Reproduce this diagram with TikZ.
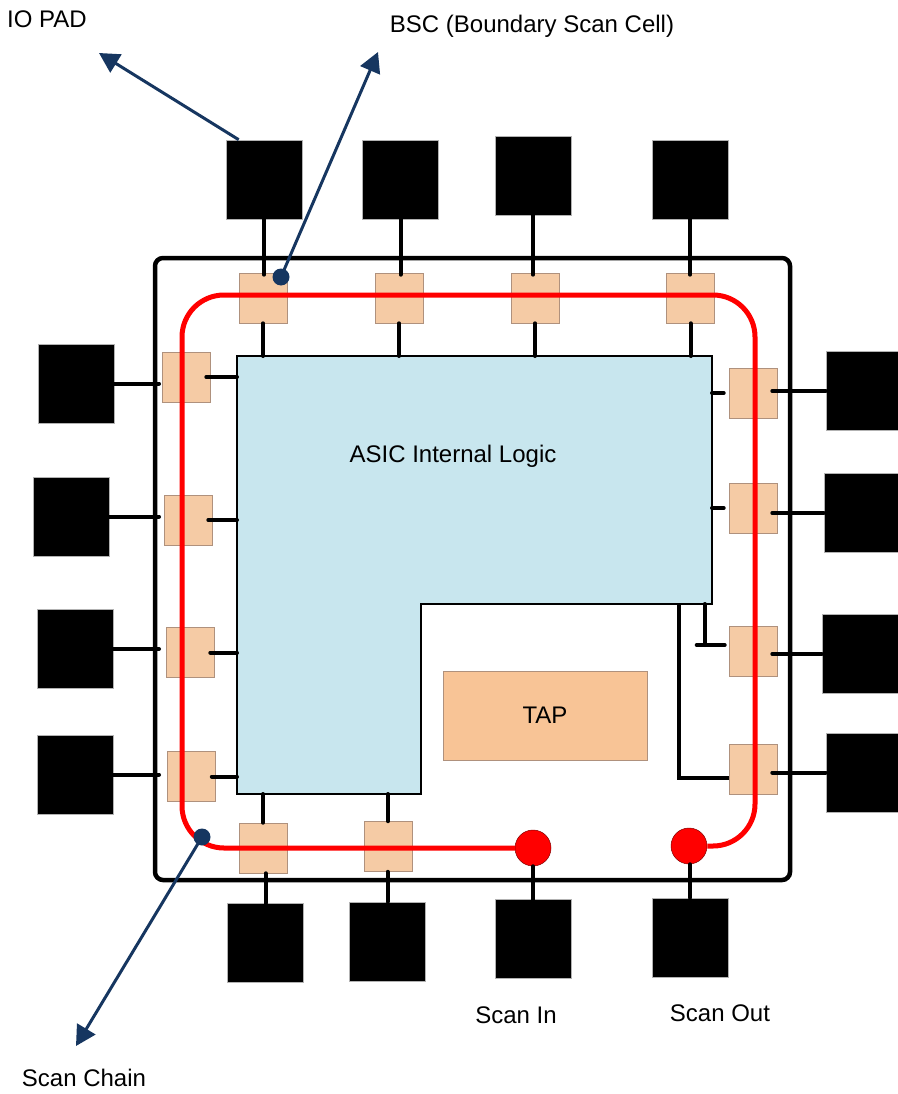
\documentclass[tikz,border=0pt]{standalone}
\usepackage{fontspec}
\setmainfont{Liberation Sans}
\usetikzlibrary{arrows.meta,calc}
\definecolor{cellfill}{RGB}{245,203,165}
\definecolor{cellline}{RGB}{175,145,125}
\definecolor{tapfill}{RGB}{248,196,150}
\definecolor{logicfill}{RGB}{200,230,238}
\definecolor{navy}{RGB}{22,54,96}
\begin{document}
\begin{tikzpicture}[x=1pt,y=-1pt,font=\fontsize{24}{28}\selectfont]
\tikzstyle{iopad}=[fill=black,draw=gray!60,line width=0.6pt,minimum width=76pt,minimum height=79pt,inner sep=0pt]
\tikzstyle{bsc}=[fill=cellfill,draw=cellline,line width=0.6pt,minimum width=48pt,minimum height=50pt,inner sep=0pt]
\tikzstyle{wire}=[line width=4pt,line cap=round]
\tikzstyle{scanpath}=[draw=red,line width=5pt,rounded corners=42pt]
\tikzstyle{sdot}=[circle,fill=red,draw=red!50!black,line width=0.5pt,minimum size=36pt,inner sep=0pt]
\tikzstyle{ndot}=[circle,fill=navy,minimum size=17pt,inner sep=0pt]
\tikzstyle{pointer}=[draw=navy,line width=3pt,-{Triangle[length=20pt,width=21pt]}]
\useasboundingbox (0,0) rectangle (897,1094);
\node[draw,line width=4.5pt,rounded corners=8pt,minimum width=635pt,minimum height=622pt,outer sep=0pt] (chip) at (472.5,569) {};
\coordinate (lgnw) at (237,356); \coordinate (lgne) at (712,356); \coordinate (lgse) at (712,604);
\coordinate (lgm) at (421,604); \coordinate (lgsw) at (237,794);
\draw[fill=logicfill,line width=1.5pt] (lgnw) -- (lgne) -- (lgse) -- (lgm) -- (lgm |- lgsw) -- (lgsw) -- cycle;
\node (logic) at (453,456) {ASIC Internal Logic};
\node[fill=tapfill,draw=cellline,line width=0.6pt,minimum width=204pt,minimum height=89pt] (tap) at (545,715.5) {TAP};
\foreach \n/\x/\y in {tp1/264/179.5,tp2/400.5/179.5,tp3/533/176,tp4/690/179.5,lp1/76/383.5,lp2/71/516.5,lp3/75/649,lp4/75/774.5,rp1/864/391,rp2/862/513,rp3/860/654,rp4/864/772.5,bp1/265.5/943,bp2/387.5/941.5,bp3/533/939,bp4/690/937.5} \node[iopad] (\n) at (\x,\y) {};
\foreach \n/\x/\y in {tc1/263/298,tc2/399/298,tc3/535/298,tc4/690.5/298,lc1/186/377,lc2/188/520,lc3/190/652.5,lc4/191.5/776.5,rc1/753/393,rc2/753/508,rc3/753/651,rc4/753/769,bc1/263/848,bc2/388/846.5} \node[bsc] (\n) at (\x,\y) {};
\foreach \i in {1,...,4} {\draw[wire] (tp\i.south) -- ([yshift=-2pt]tp\i.south |- tc\i.north); \draw[wire] (tc\i.south) -- (tc\i.south |- lgnw);}
\foreach \i in {1,...,4} {\draw[wire] (lp\i.east) -- ([xshift=4pt]lp\i.east -| chip.west); \draw[wire] ([xshift=-4pt]lc\i.east) -- (lc\i.east -| lgnw);}
\foreach \i in {1,...,4} \draw[wire] ([xshift=-5pt]rc\i.east |- rp\i.west) -- (rp\i.west);
\foreach \i in {1,2} \draw[wire] (rc\i.west -| lgne) -- ([xshift=-5pt]rc\i.west);
\draw[wire] ([xshift=-24pt]rc3.west |- lgse) -- ([xshift=-24pt,yshift=6pt]rc3.west);
\draw[wire] ([xshift=-32pt,yshift=6pt]rc3.west) -- ([xshift=-4pt,yshift=6pt]rc3.west);
\draw[wire,line cap=butt] ([xshift=-50pt]rc4.west |- lgse) |- ([yshift=-9pt]rc4.west);
\foreach \i in {1,2} {\draw[wire] (bc\i.north) -- (bc\i.north |- lgsw); \draw[wire] (bp\i.north) -- (bp\i.north |- bc\i.south);}
\node[sdot] (sin) at (533,848) {};
\node[sdot] (sout) at (689,846) {};
\draw[wire] (bp3.north) -- (sin.south);
\draw[wire] (bp4.north) -- (bp4.north |- sout.south);
\draw[scanpath] (sin.west) -- (182,848) -- (182,295) -- (755,295) |- (sout.east);
\node (iolbl) at (47,19) {IO PAD};
\node (bsclbl) at (532,26) {BSC (Boundary Scan Cell)};
\node (inlbl) at (516,1015) {Scan In};
\node (outlbl) at (720,1013) {Scan Out};
\node (chainlbl) at (84,1078) {Scan Chain};
\coordinate (iotip) at (99,53);
\draw[pointer] ([xshift=13pt]tp1.north west) -- (iotip);
\node[ndot] (bscdot) at (281,277) {};
\coordinate (bsctip) at (378,52);
\draw[pointer] (bscdot.center) -- (bsctip);
\node[ndot] (chaindot) at (202,837) {};
\coordinate (chaintip) at (76,1046);
\draw[pointer] (chaindot.center) -- (chaintip);
\end{tikzpicture}
\end{document}
